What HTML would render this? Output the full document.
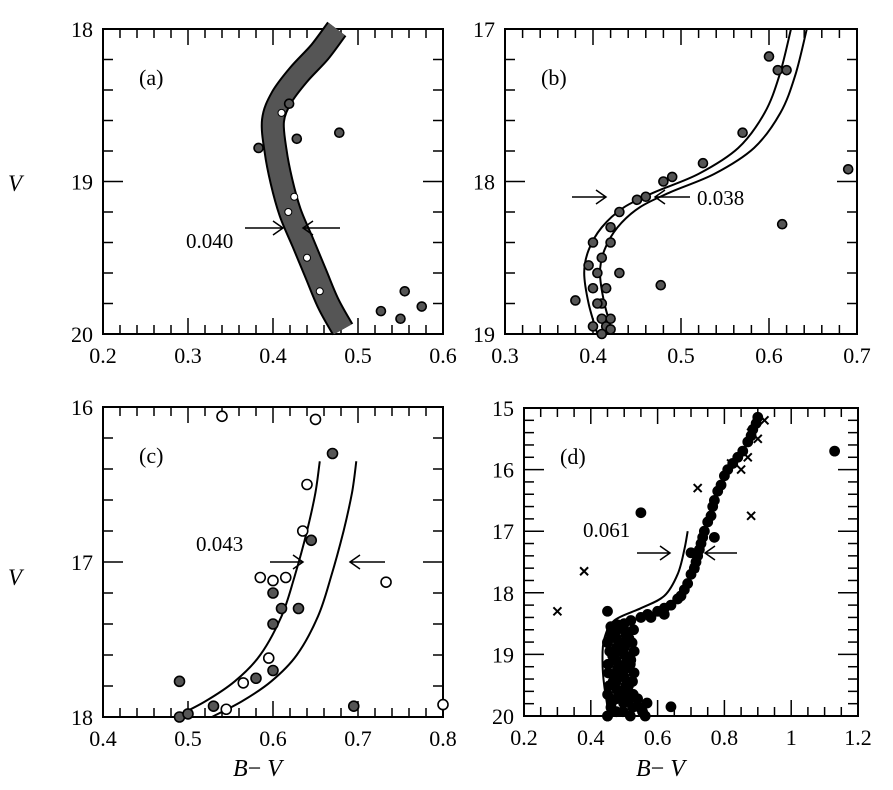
<!DOCTYPE html><html><head><style>body{margin:0;background:#fff}svg{display:block}text{font-family:"Liberation Serif",serif;fill:#000}</style></head><body>
<svg id="s" width="893" height="790" xmlns="http://www.w3.org/2000/svg"></svg>
<script>
const S=document.getElementById('s');let h='';
function P(o){
 const X=v=>o.x0+(v-o.xa)/(o.xb-o.xa)*(o.x1-o.x0), Y=v=>o.y0+(v-o.ya)/(o.yb-o.ya)*(o.y1-o.y0);
 o.X=X;o.Y=Y;
 h+=`<rect x="${o.x0}" y="${o.y0}" width="${o.x1-o.x0}" height="${o.y1-o.y0}" fill="none" stroke="#000" stroke-width="2"/>`;
 let n=Math.round((o.xb-o.xa)/o.xm);
 for(let i=1;i<n;i++){let v=o.xa+i*o.xm,x=X(v),maj=Math.abs(v/o.xM-Math.round(v/o.xM))<1e-6,L=maj?16:9;
  h+=`<line x1="${x}" y1="${o.y1}" x2="${x}" y2="${o.y1-L}" stroke="#000" stroke-width="1.5"/><line x1="${x}" y1="${o.y0}" x2="${x}" y2="${o.y0+L}" stroke="#000" stroke-width="1.5"/>`;}
 for(let i=0;i<=Math.round((o.xb-o.xa)/o.xM);i++){let v=o.xa+i*o.xM;h+=`<text x="${X(v)}" y="${o.y1+29}" font-size="22" text-anchor="middle">${o.fmt(v)}</text>`;}
 n=Math.round((o.yb-o.ya)/o.ym);
 for(let i=1;i<n;i++){let v=o.ya+i*o.ym,y=Y(v),maj=Math.abs(v/o.yM-Math.round(v/o.yM))<1e-6,L=maj?20:10;
  h+=`<line x1="${o.x0}" y1="${y}" x2="${o.x0+L}" y2="${y}" stroke="#000" stroke-width="1.5"/><line x1="${o.x1}" y1="${y}" x2="${o.x1-L}" y2="${y}" stroke="#000" stroke-width="1.5"/>`;}
 for(let i=0;i<=Math.round((o.yb-o.ya)/o.yM);i++){let v=o.ya+i*o.yM;h+=`<text x="${o.x0-10}" y="${Y(v)+8}" font-size="22" text-anchor="end">${Math.round(v)}</text>`;}
 h+=`<text x="${o.x0+36}" y="${o.y0+56}" font-size="22">${o.lab}</text>`;
 return o;}
function path(o,pts,dx=0){const q=pts.map(p=>[o.X(p[0]+dx),o.Y(p[1])]);let s='M'+q[0][0].toFixed(1)+','+q[0][1].toFixed(1);
 for(let i=0;i<q.length-1;i++){const p0=q[Math.max(0,i-1)],p1=q[i],p2=q[i+1],p3=q[Math.min(q.length-1,i+2)];
  s+=` C${(p1[0]+(p2[0]-p0[0])/6).toFixed(1)},${(p1[1]+(p2[1]-p0[1])/6).toFixed(1)} ${(p2[0]-(p3[0]-p1[0])/6).toFixed(1)},${(p2[1]-(p3[1]-p1[1])/6).toFixed(1)} ${p2[0].toFixed(1)},${p2[1].toFixed(1)}`;}
 return s;}
function dot(o,x,y,r=5,f='#555',hol=false){h+=`<circle cx="${o.X(x)}" cy="${o.Y(y)}" r="${r}" fill="${hol?'#fff':f}" stroke="#000" stroke-width="1.6"/>`;}
function cross(o,x,y){let a=o.X(x),b=o.Y(y);h+=`<path d="M${a-4},${b-4}L${a+4},${b+4}M${a-4},${b+4}L${a+4},${b-4}" stroke="#000" stroke-width="2"/>`;}
function arrow(x1,x2,y){let d=x2>x1?-1:1;h+=`<path d="M${x1},${y}L${x2},${y}M${x2+d*10},${y-7}L${x2},${y}L${x2+d*10},${y+7}" stroke="#000" stroke-width="1.5" fill="none"/>`;}
const f1=v=>v.toFixed(1);
// a
let a=P({x0:103,x1:443,y0:29,y1:334,xa:.2,xb:.6,ya:18,yb:20,xm:.02,xM:.1,ym:.2,yM:1,fmt:f1,lab:'(a)'});
let ca=[[.475,18],[.455,18.15],[.43,18.3],[.41,18.45],[.4,18.6],[.403,18.8],[.41,19],[.42,19.2],[.435,19.4],[.45,19.6],[.465,19.8],[.482,19.97]];
h+=`<path d="${path(a,ca)}" stroke="#000" stroke-width="24" fill="none"/><path d="${path(a,ca)}" stroke="#555" stroke-width="20" fill="none"/>`;
[[.41,18.55],[.418,19.2],[.44,19.5],[.455,19.72],[.425,19.1]].forEach(p=>h+=`<circle cx="${a.X(p[0])}" cy="${a.Y(p[1])}" r="3.5" fill="#fff" stroke="#000"/>`);
[[.419,18.49],[.428,18.72],[.383,18.78],[.478,18.68],[.555,19.72],[.575,19.82],[.55,19.9],[.527,19.85]].forEach(p=>dot(a,p[0],p[1],4.5));
h+=`<text x="186" y="248" font-size="21">0.040</text>`;arrow(245,283,228);arrow(340,303,228);
// b
let b=P({x0:505,x1:857,y0:29,y1:334,xa:.3,xb:.7,ya:17,yb:19,xm:.02,xM:.1,ym:.2,yM:1,fmt:f1,lab:'(b)'});
let cb=[[.405,19],[.395,18.8],[.39,18.6],[.395,18.45],[.41,18.3],[.435,18.17],[.47,18.07],[.52,17.95],[.565,17.78],[.595,17.55],[.612,17.3],[.625,17]];
h+=`<path d="${path(b,cb)}" stroke="#000" stroke-width="2" fill="none"/><path d="${path(b,cb,.018)}" stroke="#000" stroke-width="2" fill="none"/>`;
[[.4,18.7],[.41,18.5],[.42,18.3],[.43,18.2],[.45,18.12],[.46,18.1],[.48,18.0],[.49,17.97],[.41,18.9],[.415,18.95],[.405,18.6],[.42,18.4],[.395,18.55],[.38,18.78],[.41,18.8],[.42,18.9],[.4,18.4],[.43,18.6],[.477,18.68],[.525,17.88],[.57,17.68],[.6,17.18],[.61,17.27],[.62,17.27],[.615,18.28],[.69,17.92],[.41,19.0],[.4,18.95],[.42,18.97],[.405,18.8],[.415,18.7]].forEach(p=>dot(b,p[0],p[1],4.5));
arrow(572,606,197);arrow(690,655,197);h+=`<text x="697" y="205" font-size="21">0.038</text>`;
// c
let c=P({x0:103,x1:443,y0:407,y1:717,xa:.4,xb:.8,ya:16,yb:18,xm:.02,xM:.1,ym:.2,yM:1,fmt:f1,lab:'(c)'});
let cc=[[.485,18],[.52,17.9],[.555,17.77],[.585,17.6],[.61,17.35],[.625,17.1],[.64,16.8],[.65,16.55],[.655,16.35]];
h+=`<path d="${path(c,cc)}" stroke="#000" stroke-width="2" fill="none"/><path d="${path(c,cc,.043)}" stroke="#000" stroke-width="2" fill="none"/>`;
[[.54,16.06,1],[.65,16.08,1],[.64,16.5,1],[.635,16.8,1],[.585,17.1,1],[.6,17.12,1],[.615,17.1,1],[.733,17.13,1],[.595,17.62,1],[.565,17.78,1],[.545,17.95,1],[.8,17.92,1],[.67,16.3],[.645,16.86],[.6,17.2],[.61,17.3],[.63,17.3],[.6,17.4],[.58,17.75],[.6,17.7],[.49,17.77],[.53,17.93],[.695,17.93],[.49,18],[.5,17.98]].forEach(p=>dot(c,p[0],p[1],5,'#555',p[2]));
h+=`<text x="196" y="551" font-size="21">0.043</text>`;arrow(270,303,562);arrow(385,350,562);
// d
let d=P({x0:524,x1:858,y0:408,y1:716,xa:.2,xb:1.2,ya:15,yb:20,xm:.05,xM:.2,ym:.2,yM:1,fmt:v=>(Math.abs(v-1)<1e-6?'1':v.toFixed(1)),lab:'(d)'});
let cd=[[.455,20],[.44,19.5],[.435,19.1],[.44,18.75],[.47,18.45],[.55,18.25],[.62,18.05],[.66,17.7],[.68,17.3],[.69,17.0]];
h+=`<path d="${path(d,cd)}" stroke="#000" stroke-width="2" fill="none"/>`;
let pd=[];for(let v=18.6;v<=20.02;v+=.07)for(let k=0;k<3;k++)pd.push([.465+k*.025+Math.sin(v*37+k*2)*.015+(v>19.7?.02*k:0),v]);
let sb=[[.46,18.55],[.48,18.52],[.5,18.5],[.52,18.45],[.55,18.4],[.57,18.35],[.6,18.3],[.62,18.25],[.64,18.2],[.66,18.1],[.67,18.05],[.68,17.95],[.69,17.85],[.7,17.7],[.71,17.6],[.715,17.5],[.72,17.4],[.725,17.3],[.73,17.2],[.735,17.1],[.74,17.0],[.75,16.85],[.76,16.75],[.765,16.6],[.77,16.5],[.78,16.35],[.79,16.25],[.8,16.1],[.81,16.0],[.825,15.9],[.84,15.8],[.855,15.7],[.87,15.55],[.88,15.45],[.885,15.35],[.895,15.25],[.9,15.15]];
sb.forEach(p=>pd.push(p));
pd.push([.45,18.3],[.45,18.8],[.55,16.7],[1.13,15.7],[.64,19.85],[.45,20],[.7,17.35],[.77,17.1],[.58,18.4],[.62,18.35],[.5,18.6]);
pd.forEach(p=>dot(d,p[0],p[1],4.6,'#000'));
[[.3,18.3],[.38,17.65],[.88,16.75],[.72,16.3],[.85,16],[.87,15.8],[.9,15.5],[.92,15.2],[.82,15.9],[.71,17.6],[.88,15.4]].forEach(p=>cross(d,p[0],p[1]));
h+=`<text x="583" y="537" font-size="21">0.061</text>`;arrow(637,670,553);arrow(737,705,553);
// axis labels
h+=`<text x="8" y="191" font-size="23" font-style="italic">V</text><text x="8" y="585" font-size="23" font-style="italic">V</text>`;
h+=`<text x="233" y="776" font-size="24"><tspan font-style="italic">B</tspan>− <tspan font-style="italic">V</tspan></text><text x="636" y="776" font-size="24"><tspan font-style="italic">B</tspan>− <tspan font-style="italic">V</tspan></text>`;
S.innerHTML=h;
</script></body></html>
